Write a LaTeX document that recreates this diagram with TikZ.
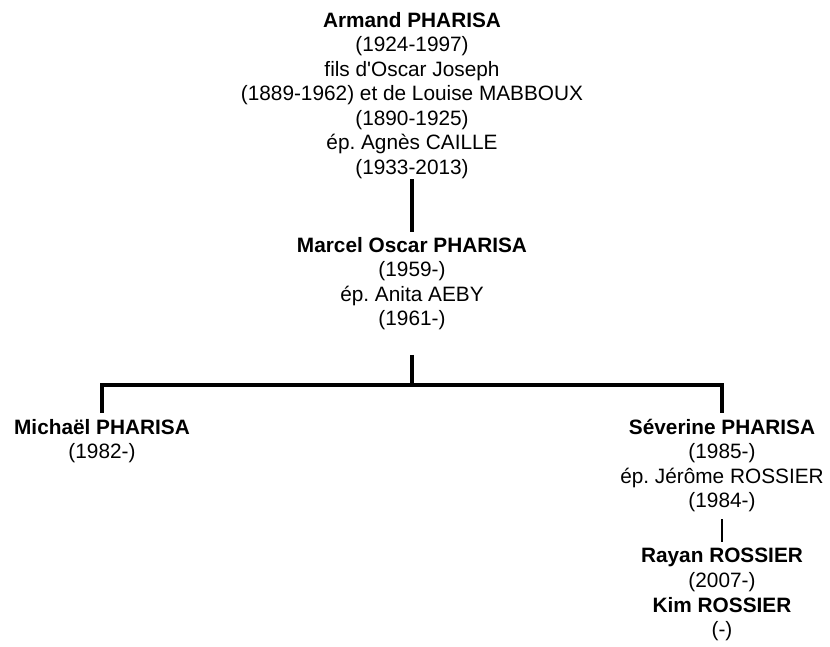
\documentclass[tikz,border=0pt]{standalone}
\usepackage{fontspec}
\setmainfont{Liberation Sans}[Ligatures=TeXOff]
\begin{document}
\frenchspacing
\begin{tikzpicture}[x=1pt,y=-1pt,
  person/.style={anchor=north, align=center, inner sep=0pt, outer sep=0pt,
    font=\fontsize{20.8}{24.5}\selectfont},
  conn/.style={line width=4pt, line join=miter},
  thinconn/.style={line width=2.6pt}]
\useasboundingbox[fill=white] (0,0) rectangle (830,646);
\node[person] (armand) at (412,12) {\textbf{Armand PHARISA}\\(1924-1997)\\fils d'Oscar Joseph\\(1889-1962) et de Louise MABBOUX\\(1890-1925)\\ép. Agnès CAILLE\\(1933-2013)};
\node[person] (marcel) at (412,237) {\textbf{Marcel Oscar PHARISA}\\(1959-)\\ép. Anita AEBY\\(1961-)};
\node[person] (michael) at (102,419) {\textbf{Michaël PHARISA}\\(1982-)};
\node[person] (severine) at (722,419) {\textbf{Séverine PHARISA}\\(1985-)\\ép. Jérôme ROSSIER\\(1984-)};
\node[person] (rayan) at (722,548) {\textbf{Rayan ROSSIER}\\(2007-)};
\node[person] (kim) at (722,597) {\textbf{Kim ROSSIER}\\(-)};
\coordinate (j) at (412,385);
\draw[conn] ([yshift=-1pt]armand.south) -- ([yshift=5pt]marcel.north);
\draw[conn] ([yshift=-25pt]marcel.south) -- (j);
\draw[conn] ([yshift=6pt]michael.north) -- (michael.north |- j) -- (severine.north |- j) -- ([yshift=6pt]severine.north);
\draw[thinconn] ([yshift=-7pt]severine.south) -- ([yshift=6pt]rayan.north);
\end{tikzpicture}
\end{document}
